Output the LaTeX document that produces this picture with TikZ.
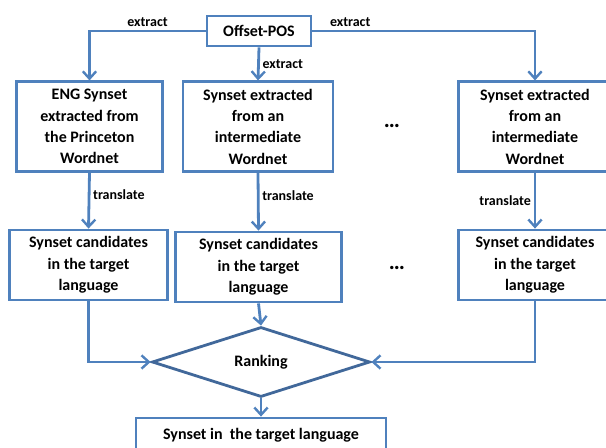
\documentclass[tikz,border=0pt]{standalone}
\usepackage{fontspec}
\setmainfont{Carlito}
\usetikzlibrary{arrows.meta,shapes.geometric,positioning}
\definecolor{wnblue}{HTML}{4F81BD}
\definecolor{wndark}{HTML}{41689A}
\tikzset{
  every picture/.style={line width=2.1pt},
  box/.style={draw=wnblue, align=center, inner sep=1pt,
    font=\bfseries\fontsize{12}{16}\selectfont},
  arr/.style={draw=wnblue, -{Straight Barb[length=5.5pt,width=10pt,line width=1.8pt]}},
  lab/.style={font=\bfseries\fontsize{10.5}{11}\selectfont, inner sep=2pt},
  gap/.style={font=\bfseries\fontsize{17}{17}\selectfont, inner sep=0pt}
}

\begin{document}
\begin{tikzpicture}[x=0.75pt,y=-0.75pt]
    \useasboundingbox (0,0) rectangle (606,448);

    % 源节点
    \node[box, minimum width=78pt, minimum height=22.5pt] (off) at (259,31) {Offset-POS};

    % 第一行：抽取的同义词集
    \node[box, minimum width=110pt, minimum height=67pt] (engSyn) at (89.5,126.5)
        {ENG Synset\\extracted from\\the Princeton\\Wordnet};
    \node[box, minimum width=112.5pt, minimum height=67pt] (midSynA) at (258,126.5)
        {Synset extracted\\from an\\intermediate\\Wordnet};
    \node[box, minimum width=115pt, minimum height=67pt] (midSynB) at (535,126.5)
        {Synset extracted\\from an\\intermediate\\Wordnet};
    \node[gap] (dotsA) at (392,126) {\dots};

    % 第二行：目标语言候选
    \node[box, minimum width=118pt, minimum height=52.5pt] (candA) at (88.5,265)
        {Synset candidates\\in the target\\language};
    \node[box, minimum width=125pt, minimum height=52.5pt] (candB) at (258.5,267)
        {Synset candidates\\in the target\\language};
    \node[box, minimum width=115pt, minimum height=52.5pt] (candC) at (535,265)
        {Synset candidates\\in the target\\language};
    \node[gap] (dotsB) at (397,268) {\dots};

    % 排序菱形
    \node[box, draw=wndark, diamond, inner sep=0pt,
        minimum width=163.5pt, minimum height=52.5pt] (rank) at (261,362) {Ranking};

    % 输出
    \node[box, minimum width=187.5pt, minimum height=25.5pt] (out) at (261,435)
        {Synset in\ \ the target language};

    % 抽取箭头
    \draw[arr] (off.west) -| (engSyn.north) node[lab, pos=0.25, above] {extract};
    \draw[arr] (off.east) -| (midSynB.north) node[lab, pos=0.085, above] {extract};
    \draw[arr] (off.south) -- (midSynA.north) node[lab, midway, right] {extract};

    % 翻译箭头
    \draw[arr] (engSyn.south) -- (candA.north) node[lab, pos=0.4, right] {translate};
    \draw[arr] (midSynA.south) -- (candB.north) node[lab, pos=0.4, right] {translate};
    \draw[arr] (midSynB.south) -- (candC.north) node[lab, pos=0.5, left] {translate};

    % 汇入排序
    \draw[arr] (candA.south) |- (rank.west);
    \draw[arr] (candB.south) -- (rank.north);
    \draw[arr] (candC.south) |- (rank.east);
    \draw[arr] (rank.south) -- (out.north);
\end{tikzpicture}
\end{document}
